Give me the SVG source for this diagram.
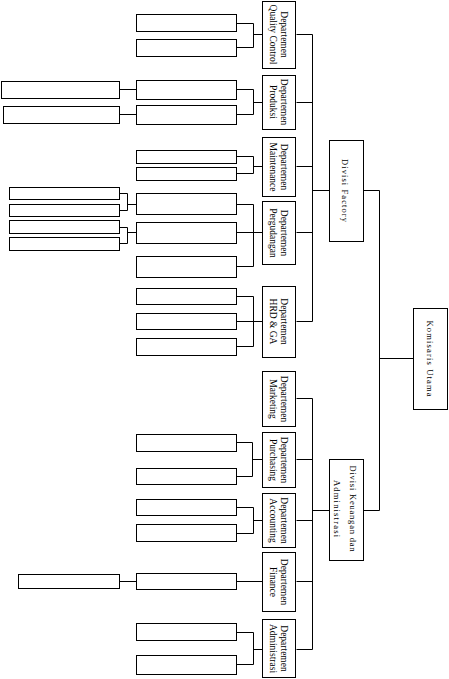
<svg xmlns="http://www.w3.org/2000/svg" width="449" height="679" viewBox="0 0 449 679">
<style>
rect{fill:#fff;stroke:#000;stroke-width:1}
.c path{fill:none;stroke:#000;stroke-width:1}
text{font-family:"Liberation Serif","Times New Roman",serif;font-size:9.5px;fill:#000;text-anchor:middle}
.d{font-size:8.5px}
</style>
<rect x="0" y="0" width="449" height="679" style="stroke:none"/>
<g class="c" id="connectors">
<path d="M236.5 23.5H253.5V47.5H236.5M253.5 34.5H262.5"/>
<path d="M236.5 89.5H253.5V114.5H236.5M253.5 102.5H262.5M119.5 89.5H136.5M119.5 114.5H136.5"/>
<path d="M236.5 156.5H253.5V173.5H236.5M253.5 166.5H262.5"/>
<path d="M236.5 204.5H253.5V266.5H236.5M236.5 232.5H262.5"/>
<path d="M119.5 193.5H127.5V210.5H119.5M127.5 204.5H136.5M119.5 227.5H127.5V243.5H119.5M127.5 232.5H136.5"/>
<path d="M236.5 296.5H253.5V346.5H236.5M236.5 321.5H262.5"/>
<path d="M296.5 34.5H312.5V321.5H296.5M296.5 102.5H312.5M296.5 166.5H312.5M296.5 232.5H312.5M312.5 190.5H329.5"/>
<path d="M363.5 190.5H379.5V510.5H363.5M379.5 358.5H413.5"/>
<path d="M296.5 398.5H312.5V649.5H296.5M296.5 459.5H312.5M296.5 520.5H312.5M296.5 581.5H312.5M312.5 510.5H329.5"/>
<path d="M236.5 442.5H252.5V476.5H236.5M252.5 459.5H262.5"/>
<path d="M236.5 507.5H253.5V533.5H236.5M253.5 520.5H262.5"/>
<path d="M236.5 581.5H262.5M119.5 581.5H136.5"/>
<path d="M236.5 632.5H253.5V664.5H236.5M253.5 649.5H262.5"/>
</g>
<g id="komisaris-utama"><rect x="413.5" y="308.5" width="34" height="101"/><text class="d" transform="translate(427,358.5) rotate(90)" textLength="76" lengthAdjust="spacing">Komisaris Utama</text></g>
<g id="divisi-factory"><rect x="329.5" y="140.5" width="34" height="101"/><text class="d" transform="translate(342,190.5) rotate(90)" textLength="63" lengthAdjust="spacing">Divisi Factory</text></g>
<g id="divisi-keuangan"><rect x="329.5" y="459.5" width="34" height="101"/><text class="d" transform="translate(350,508.5) rotate(90)" textLength="86" lengthAdjust="spacing">Divisi Keuangan dan</text><text class="d" transform="translate(334,508.5) rotate(90)" textLength="57" lengthAdjust="spacing">Administrasi</text></g>
<g id="dept-qc"><rect x="262.5" y="1.5" width="33" height="67"/><text transform="translate(281,34.5) rotate(90)">Departemen</text><text transform="translate(269.5,34.5) rotate(90)">Quality Control</text></g>
<g id="dept-produksi"><rect x="262.5" y="75.5" width="33" height="54"/><text transform="translate(281,102) rotate(90)">Departemen</text><text transform="translate(269.5,102) rotate(90)">Produksi</text></g>
<g id="dept-maintenance"><rect x="262.5" y="137.5" width="33" height="59"/><text transform="translate(281,167) rotate(90)">Departemen</text><text transform="translate(269.5,167) rotate(90)">Maintenance</text></g>
<g id="dept-pergudangan"><rect x="262.5" y="201.5" width="33" height="63"/><text transform="translate(281,233) rotate(90)">Departemen</text><text transform="translate(269.5,233) rotate(90)">Pergudangan</text></g>
<g id="dept-hrd"><rect x="262.5" y="286.5" width="33" height="71"/><text transform="translate(281,321.5) rotate(90)">Departemen</text><text transform="translate(269.5,321.5) rotate(90)">HRD &amp; GA</text></g>
<g id="dept-marketing"><rect x="262.5" y="371.5" width="33" height="55"/><text transform="translate(281,399) rotate(90)">Departemen</text><text transform="translate(269.5,399) rotate(90)">Marketing</text></g>
<g id="dept-purchasing"><rect x="262.5" y="432.5" width="33" height="55"/><text transform="translate(281,460) rotate(90)">Departemen</text><text transform="translate(269.5,460) rotate(90)">Purchasing</text></g>
<g id="dept-accounting"><rect x="262.5" y="493.5" width="33" height="54"/><text transform="translate(281,520.5) rotate(90)">Departemen</text><text transform="translate(269.5,520.5) rotate(90)">Accounting</text></g>
<g id="dept-finance"><rect x="262.5" y="552.5" width="33" height="59"/><text transform="translate(281,582) rotate(90)">Departemen</text><text transform="translate(269.5,582) rotate(90)">Finance</text></g>
<g id="dept-administrasi"><rect x="262.5" y="619.5" width="33" height="58"/><text transform="translate(281,648.5) rotate(90)">Departemen</text><text transform="translate(269.5,648.5) rotate(90)">Administrasi</text></g>
<g id="qc-sub1"><rect x="136.5" y="14.5" width="100" height="17"/></g>
<g id="qc-sub2"><rect x="136.5" y="39.5" width="100" height="17"/></g>
<g id="prod-sub1"><rect x="136.5" y="80.5" width="100" height="19"/></g>
<g id="prod-sub2"><rect x="136.5" y="105.5" width="100" height="19"/></g>
<g id="prod-sub1-a"><rect x="1.5" y="81.5" width="118" height="17"/></g>
<g id="prod-sub2-a"><rect x="3.5" y="106.5" width="116" height="17"/></g>
<g id="mnt-sub1"><rect x="136.5" y="150.5" width="100" height="13"/></g>
<g id="mnt-sub2"><rect x="136.5" y="167.5" width="100" height="13"/></g>
<g id="gud-sub1"><rect x="136.5" y="193.5" width="100" height="21"/></g>
<g id="gud-sub2"><rect x="136.5" y="222.5" width="100" height="21"/></g>
<g id="gud-sub3"><rect x="136.5" y="256.5" width="100" height="21"/></g>
<g id="gud-sub1-a"><rect x="9.5" y="187.5" width="110" height="12"/></g>
<g id="gud-sub1-b"><rect x="9.5" y="204.5" width="110" height="12"/></g>
<g id="gud-sub2-a"><rect x="9.5" y="220.5" width="110" height="13"/></g>
<g id="gud-sub2-b"><rect x="9.5" y="237.5" width="110" height="13"/></g>
<g id="hrd-sub1"><rect x="136.5" y="288.5" width="100" height="16"/></g>
<g id="hrd-sub2"><rect x="136.5" y="313.5" width="100" height="16"/></g>
<g id="hrd-sub3"><rect x="136.5" y="338.5" width="100" height="17"/></g>
<g id="pur-sub1"><rect x="136.5" y="434.5" width="100" height="17"/></g>
<g id="pur-sub2"><rect x="136.5" y="468.5" width="100" height="16"/></g>
<g id="acc-sub1"><rect x="136.5" y="499.5" width="100" height="16"/></g>
<g id="acc-sub2"><rect x="136.5" y="524.5" width="100" height="17"/></g>
<g id="fin-sub1"><rect x="136.5" y="573.5" width="100" height="16"/></g>
<g id="fin-sub1-a"><rect x="18.5" y="574.5" width="101" height="14"/></g>
<g id="adm-sub1"><rect x="136.5" y="623.5" width="100" height="17"/></g>
<g id="adm-sub2"><rect x="136.5" y="655.5" width="100" height="19"/></g>
</svg>
